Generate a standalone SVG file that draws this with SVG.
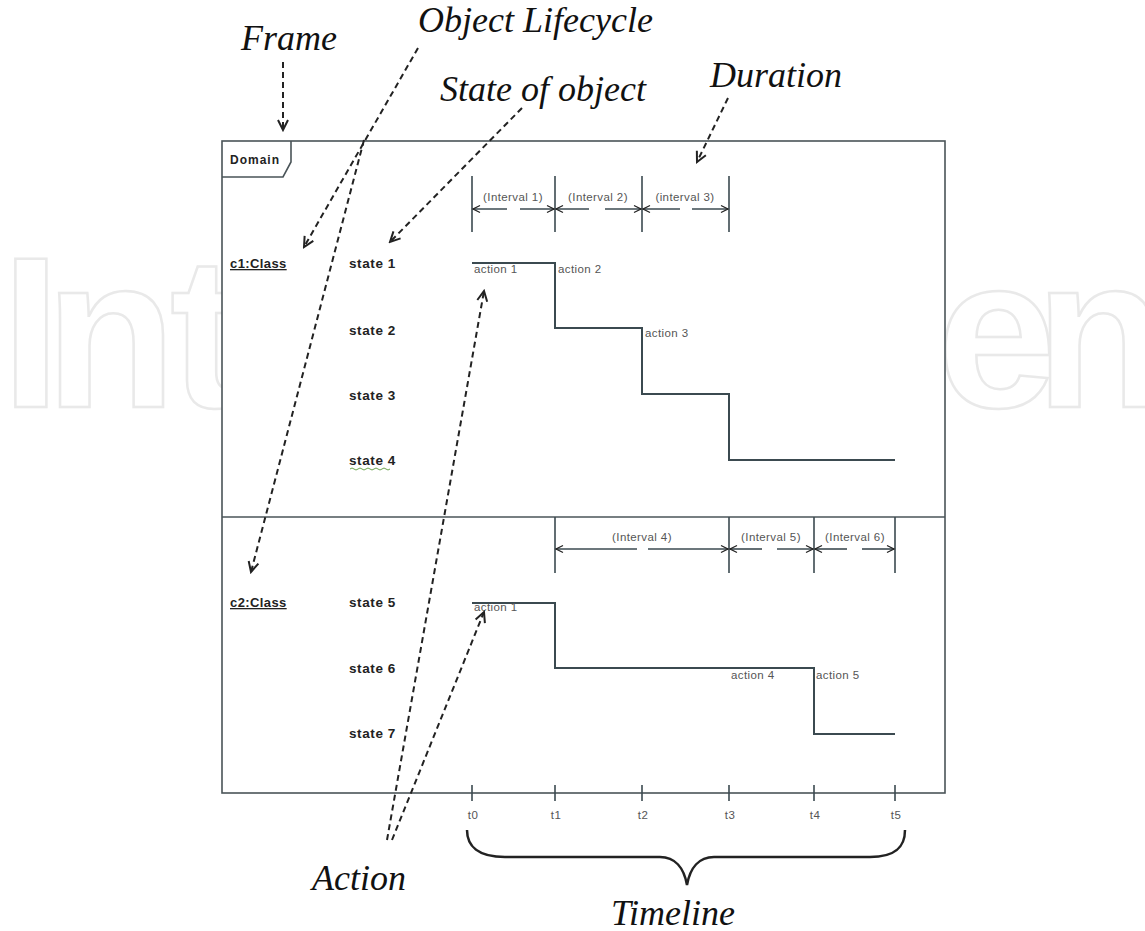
<svg xmlns="http://www.w3.org/2000/svg" width="1145" height="931" viewBox="0 0 1145 931">
<style>
.wm{font-family:"Liberation Sans",Arial,sans-serif;font-weight:bold;font-size:215px;fill:none;stroke:#e9e9e9;stroke-width:2.5}
.frame{fill:#fff;stroke:#4a5458;stroke-width:1.6}
.fl{stroke:#4a5458;stroke-width:1.6;fill:none}
.tl{stroke:#3b4a50;stroke-width:2;fill:none}
.iv{stroke:#3b4a50;stroke-width:1.6;fill:none}
.ann{stroke:#222;stroke-width:2;fill:none;stroke-dasharray:6 4}
.big{font-family:"Liberation Serif","Times New Roman",serif;font-style:italic;font-size:36px;fill:#111}
.st{font-family:"Liberation Sans",Arial,sans-serif;font-weight:bold;font-size:13.5px;letter-spacing:0.6px;fill:#222}
.cl{font-family:"Liberation Sans",Arial,sans-serif;font-weight:bold;font-size:13px;letter-spacing:0.4px;fill:#222;text-decoration:underline}
.sm{font-family:"Liberation Sans",Arial,sans-serif;font-size:11.5px;letter-spacing:0.4px;fill:#555}
</style>
<defs>
<marker id="ah" viewBox="-10 -6 12 12" markerWidth="12" markerHeight="12" refX="0" refY="0" orient="auto-start-reverse" markerUnits="userSpaceOnUse">
<path d="M-7,-3.5 L0,0 L-7,3.5" fill="none" stroke="#222" stroke-width="1.3"/>
</marker>
<marker id="va" viewBox="-14 -8 16 16" markerWidth="16" markerHeight="16" refX="0" refY="0" orient="auto" markerUnits="userSpaceOnUse">
<path d="M-10,-5 L0,0 L-10,5" fill="none" stroke="#222" stroke-width="2"/>
</marker>
</defs>

<g id="watermark">
<text class="wm" x="1 45 170" y="407">Int</text>
<text class="wm" x="937 1035" y="407">en</text>
</g>

<g id="frame">
<rect class="frame" x="222" y="141" width="723" height="652"/>
<line class="fl" x1="222" y1="517" x2="945" y2="517"/>
<path class="fl" d="M222,177 L283,177 L291,162 L291,141"/>
<text x="230" y="164" style="font-family:'Liberation Sans',Arial,sans-serif;font-weight:bold;font-size:12px;fill:#222;letter-spacing:1px">Domain</text>
</g>

<g id="lifeline-c1">
<text class="cl" x="230" y="268">c1:Class</text>
<text class="st" x="349" y="268">state 1</text>
<text class="st" x="349" y="335">state 2</text>
<text class="st" x="349" y="400">state 3</text>
<text class="st" x="349" y="465">state 4</text>
<path d="M350,469 q2,-2 4,0 t4,0 t4,0 t4,0 t4,0 t4,0 t4,0 t4,0 t4,0 t4,0" fill="none" stroke="#5a9a3a" stroke-width="0.9"/>
<path class="tl" d="M472,263 L555,263 L555,328 L642,328 L642,394 L729,394 L729,460 L895,460"/>
<text class="sm" x="474" y="273">action 1</text>
<text class="sm" x="558" y="273">action 2</text>
<text class="sm" x="645" y="337">action 3</text>
</g>

<g id="lifeline-c2">
<text class="cl" x="230" y="607">c2:Class</text>
<text class="st" x="349" y="607">state 5</text>
<text class="st" x="349" y="673">state 6</text>
<text class="st" x="349" y="738">state 7</text>
<path class="tl" d="M472,603 L555,603 L555,668 L814,668 L814,734 L895,734"/>
<text class="sm" x="474" y="611">action 1</text>
<text class="sm" x="731" y="679">action 4</text>
<text class="sm" x="816" y="679">action 5</text>
</g>

<g id="durations-top">
<line class="iv" x1="472" y1="176" x2="472" y2="232"/>
<line class="iv" x1="555" y1="176" x2="555" y2="232"/>
<line class="iv" x1="642" y1="176" x2="642" y2="232"/>
<line class="iv" x1="729" y1="176" x2="729" y2="232"/>
<line class="iv" x1="473" y1="209" x2="507" y2="209" marker-start="url(#ah)"/>
<line class="iv" x1="520" y1="209" x2="554" y2="209" marker-end="url(#ah)"/>
<line class="iv" x1="556" y1="209" x2="589" y2="209" marker-start="url(#ah)"/>
<line class="iv" x1="605" y1="209" x2="641" y2="209" marker-end="url(#ah)"/>
<line class="iv" x1="643" y1="209" x2="680" y2="209" marker-start="url(#ah)"/>
<line class="iv" x1="692" y1="209" x2="728" y2="209" marker-end="url(#ah)"/>
<text class="sm" x="513" y="201" text-anchor="middle">(Interval 1)</text>
<text class="sm" x="598" y="201" text-anchor="middle">(Interval 2)</text>
<text class="sm" x="685" y="201" text-anchor="middle">(interval 3)</text>
</g>

<g id="durations-bottom">
<line class="iv" x1="555" y1="517" x2="555" y2="573"/>
<line class="iv" x1="729" y1="517" x2="729" y2="573"/>
<line class="iv" x1="814" y1="517" x2="814" y2="573"/>
<line class="iv" x1="895" y1="517" x2="895" y2="573"/>
<line class="iv" x1="556" y1="549" x2="637" y2="549" marker-start="url(#ah)"/>
<line class="iv" x1="648" y1="549" x2="728" y2="549" marker-end="url(#ah)"/>
<line class="iv" x1="730" y1="549" x2="762" y2="549" marker-start="url(#ah)"/>
<line class="iv" x1="777" y1="549" x2="813" y2="549" marker-end="url(#ah)"/>
<line class="iv" x1="815" y1="549" x2="847" y2="549" marker-start="url(#ah)"/>
<line class="iv" x1="862" y1="549" x2="894" y2="549" marker-end="url(#ah)"/>
<text class="sm" x="642" y="541" text-anchor="middle">(Interval 4)</text>
<text class="sm" x="771" y="541" text-anchor="middle">(Interval 5)</text>
<text class="sm" x="855" y="541" text-anchor="middle">(Interval 6)</text>
</g>

<g id="timeline">
<line class="iv" x1="472" y1="785" x2="472" y2="801"/>
<line class="iv" x1="555" y1="785" x2="555" y2="801"/>
<line class="iv" x1="642" y1="785" x2="642" y2="801"/>
<line class="iv" x1="729" y1="785" x2="729" y2="801"/>
<line class="iv" x1="814" y1="785" x2="814" y2="801"/>
<line class="iv" x1="895" y1="785" x2="895" y2="801"/>
<text class="sm" x="473" y="819" text-anchor="middle">t0</text>
<text class="sm" x="556" y="819" text-anchor="middle">t1</text>
<text class="sm" x="643" y="819" text-anchor="middle">t2</text>
<text class="sm" x="730" y="819" text-anchor="middle">t3</text>
<text class="sm" x="815" y="819" text-anchor="middle">t4</text>
<text class="sm" x="896" y="819" text-anchor="middle">t5</text>
<path d="M467,830 C467,846 478,857 505,857 L660,857 C675,857 684,868 687,885 C690,868 699,857 714,857 L870,857 C897,857 905,846 905,830" fill="none" stroke="#222" stroke-width="2.5"/>
</g>

<g id="annotations">
<text class="big" x="241" y="50">Frame</text>
<text class="big" x="418" y="32">Object Lifecycle</text>
<text class="big" x="440" y="101">State of object</text>
<text class="big" x="710" y="87">Duration</text>
<text class="big" x="312" y="890">Action</text>
<text class="big" x="611" y="925">Timeline</text>
</g>

<g id="connectors">
<line class="ann" x1="283" y1="62" x2="283" y2="130" marker-end="url(#va)"/>
<line class="ann" x1="418" y1="48" x2="304" y2="247" marker-end="url(#va)"/>
<line class="ann" x1="364" y1="140" x2="251" y2="572" marker-end="url(#va)"/>
<line class="ann" x1="522" y1="108" x2="390" y2="242" marker-end="url(#va)"/>
<line class="ann" x1="728" y1="98" x2="697" y2="162" marker-end="url(#va)"/>
<line class="ann" x1="387" y1="840" x2="484" y2="291" marker-end="url(#va)"/>
<line class="ann" x1="392" y1="840" x2="484" y2="612" marker-end="url(#va)"/>
</g>
</svg>
